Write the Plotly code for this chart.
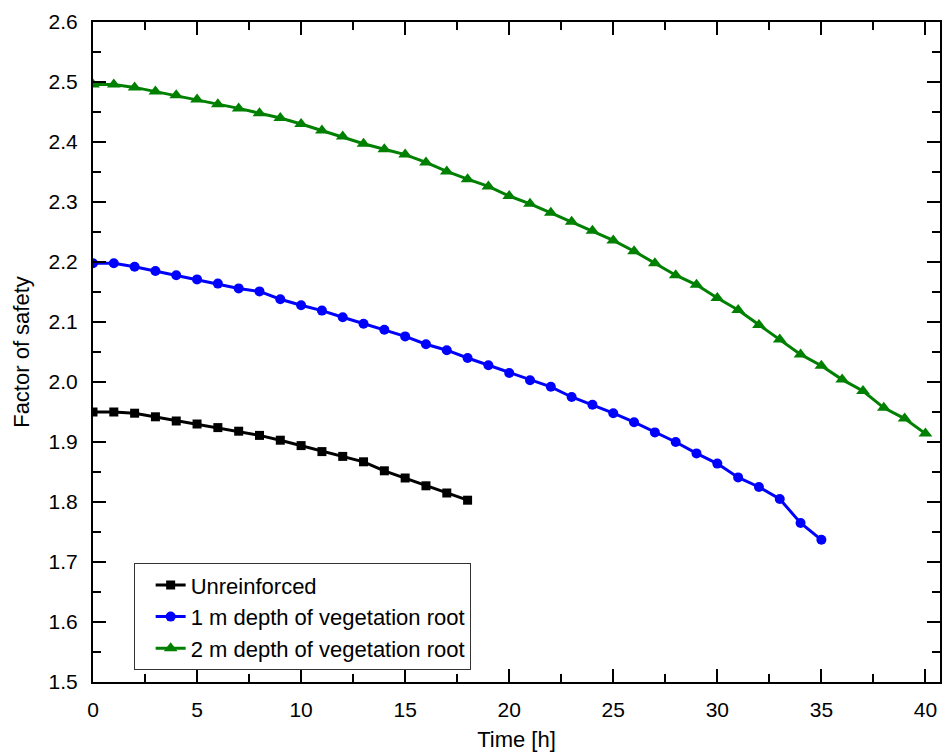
import plotly.graph_objects as go

# Time [h]
hours_unreinforced = list(range(0, 19))
hours_root_1m = list(range(0, 36))
hours_root_2m = list(range(0, 41))

# Factor of safety
fos_unreinforced = [1.950, 1.950, 1.948, 1.942, 1.935, 1.930, 1.924, 1.918, 1.911, 1.903,
                    1.894, 1.884, 1.876, 1.867, 1.852, 1.840, 1.827, 1.815, 1.803]
fos_root_1m = [2.198, 2.198, 2.192, 2.185, 2.178, 2.171, 2.164, 2.156, 2.151, 2.138,
               2.128, 2.119, 2.108, 2.097, 2.087, 2.076, 2.063, 2.053, 2.040, 2.028,
               2.015, 2.003, 1.992, 1.975, 1.962, 1.948, 1.933, 1.916, 1.900, 1.881,
               1.864, 1.841, 1.825, 1.805, 1.765, 1.737]
fos_root_2m = [2.496, 2.496, 2.491, 2.484, 2.478, 2.471, 2.463, 2.456, 2.448, 2.440,
               2.430, 2.419, 2.409, 2.397, 2.388, 2.379, 2.366, 2.351, 2.338, 2.326,
               2.310, 2.297, 2.282, 2.267, 2.252, 2.236, 2.218, 2.198, 2.178, 2.162,
               2.140, 2.120, 2.095, 2.071, 2.046, 2.027, 2.004, 1.985, 1.957, 1.939,
               1.914]

series = [
    ("Unreinforced", hours_unreinforced, fos_unreinforced, "#000000", "square", 9),
    ("1 m depth of vegetation root", hours_root_1m, fos_root_1m, "#0000FF", "circle", 10),
    ("2 m depth of vegetation root", hours_root_2m, fos_root_2m, "#008000", "triangle-up", 12),
]

font_family = "Arial, 'Liberation Sans', sans-serif"

fig = go.Figure()
for name, x, y, color, symbol, size in series:
    fig.add_trace(go.Scatter(
        x=x, y=y, name=name, mode="lines+markers",
        line=dict(color=color, width=3),
        marker=dict(symbol=symbol, size=size, color=color),
    ))

axis_common = dict(
    showline=True, linecolor="black", linewidth=2, mirror="ticks",
    ticks="inside", ticklen=13, tickwidth=2, tickcolor="black",
    showgrid=False, zeroline=False,
    tickfont=dict(family=font_family, size=21, color="black"),
)

fig.update_xaxes(
    range=[0, 40.7], tick0=0, dtick=5, ticklabelstandoff=8,
    minor=dict(ticks="inside", ticklen=8, tickwidth=2, tickcolor="black", dtick=2.5),
    title=dict(text="Time [h]", font=dict(family=font_family, size=22, color="black"), standoff=11),
    **axis_common,
)
fig.update_yaxes(
    range=[1.5, 2.6], tick0=1.5, dtick=0.1, tickformat=".1f", ticklabelstandoff=9,
    minor=dict(ticks="inside", ticklen=8, tickwidth=2, tickcolor="black", dtick=0.05),
    title=dict(text="Factor of safety", font=dict(family=font_family, size=22, color="black"), standoff=13),
    **axis_common,
)

fig.update_layout(
    width=943, height=753,
    margin=dict(l=93, r=1, t=22, b=71),
    plot_bgcolor="white", paper_bgcolor="white",
    showlegend=True,
    legend=dict(
        x=0.048, y=0.180, xanchor="left", yanchor="top",
        bordercolor="#333333", borderwidth=1, bgcolor="white",
        font=dict(family=font_family, size=22, color="black"),
        tracegroupgap=0, indentation=16,
    ),
)

fig.write_html("out.html")
